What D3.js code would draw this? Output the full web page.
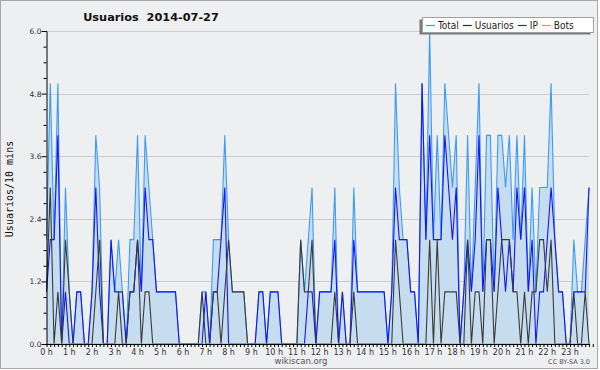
<!DOCTYPE html>
<html>
<head>
<meta charset="utf-8">
<script src="https://cdn.jsdelivr.net/npm/d3@7/dist/d3.min.js"></script>
<style>
  body { margin: 0; background: #fff; }
  svg { display: block; font-family: "DejaVu Sans", sans-serif; }
</style>
</head>
<body>
<svg id="chart"></svg>
<script>
// 10-minute slots of 2014-07-27
const hourLabels = d3.range(24).map(h => h + ' h');

const total = [
  2,5,2,5,0,3,  1,0,1,1,0,0,  1,4,3,0,0,2,  1,2,1,0,2,2,
  4,1,4,3,2,1,  1,1,1,1,1,0,  0,0,0,0,0,1,  1,0,2,2,2,4,
  2,1,1,1,1,0,  0,0,1,1,0,1,  1,1,0,0,0,0,  0,2,1,2,3,0,
  1,1,1,1,3,0,  1,0,0,3,1,1,  1,1,1,1,1,1,  0,1,5,3,2,2,
  1,1,0,5,2,6,  2,4,2,5,4,3,  4,0,1,4,1,3,  5,1,4,4,1,4,
  4,3,4,2,4,2,  4,1,3,1,3,3,  3,5,2,1,1,0,  0,2,1,1,2,3
];
const usuarios = [
  1,2,2,4,0,1,  0,0,1,1,0,0,  1,3,1,0,0,2,  1,1,1,0,1,1,
  2,1,3,2,2,1,  1,1,1,1,1,0,  0,0,0,0,0,0,  1,0,1,1,2,3,
  0,0,0,0,0,0,  0,0,1,1,0,1,  1,1,0,0,0,0,  0,0,0,1,1,0,
  1,1,1,1,2,0,  1,0,0,2,1,1,  1,1,1,1,1,1,  0,1,3,2,2,2,
  1,1,0,5,2,4,  2,2,2,4,3,2,  3,0,1,2,1,2,  4,1,2,2,1,3,
  2,1,2,1,3,2,  3,1,2,0,1,1,  2,3,2,1,1,0,  0,1,1,1,1,3
];
const ip = [
  1,3,0,1,0,2,  1,0,0,0,0,0,  0,1,2,0,0,0,  0,1,0,0,1,1,
  2,0,1,1,0,0,  0,0,0,0,0,0,  0,0,0,0,0,1,  0,0,1,1,0,1,
  2,1,1,1,1,0,  0,0,0,0,0,0,  0,0,0,0,0,0,  0,2,1,1,2,0,
  0,0,0,0,1,0,  0,0,0,1,0,0,  0,0,0,0,0,0,  0,0,2,1,0,0,
  0,0,0,0,0,2,  0,2,0,1,1,1,  1,0,0,2,0,1,  1,0,2,2,0,1,
  2,2,2,1,1,0,  1,0,1,1,2,2,  1,2,0,0,0,0,  0,1,0,0,1,0
];
const bots = [
  0,0,0,0,0,0,  0,0,0,0,0,0,  0,0,0,0,0,0,  0,0,0,0,0,0,
  0,0,0,0,0,0,  0,0,0,0,0,0,  0,0,0,0,0,0,  0,0,0,0,0,0,
  0,0,0,0,0,0,  0,0,0,0,0,0,  0,0,0,0,0,0,  0,0,0,0,0,0,
  0,0,0,0,0,0,  0,0,0,0,0,0,  0,0,0,0,0,0,  0,0,0,0,0,0,
  0,0,0,0,0,0,  0,0,0,0,0,0,  0,0,0,0,0,0,  0,0,0,0,0,0,
  0,0,0,0,0,0,  0,0,0,0,0,0,  0,0,0,0,0,0,  0,0,0,0,0,0
];
const yTicks = [0, 1.2, 2.4, 3.6, 4.8, 6.0];

const series = [
  { name: 'Total', values: total, color: '#3d9bf5' },
  { name: 'Usuarios', values: usuarios, color: '#1515f5' },
  { name: 'IP', values: ip, color: '#3a3a3a' },
  { name: 'Bots', values: bots, color: '#ff9a10' }
];

// Chart dimensions
const W = 600, H = 370;
const margin = { top: 31, right: 11, bottom: 26, left: 46.5 };

const svg = d3.select('#chart')
    .attr('width', W)
    .attr('height', H);

svg.append('rect')
    .attr('x', 0.5).attr('y', 0.5)
    .attr('width', W - 3).attr('height', H - 2)
    .attr('fill', '#eeeff1')
    .attr('stroke', '#a8a8a8');

const x = d3.scaleLinear()
    .domain([0, total.length - 1])
    .range([margin.left, W - margin.right]);
const y = d3.scaleLinear()
    .domain([0, 6])
    .range([H - margin.bottom, margin.top]);

// grid lines at the labelled ticks
svg.append('g')
    .selectAll('line')
    .data(yTicks)
    .join('line')
    .attr('x1', x.range()[0]).attr('x2', x.range()[1])
    .attr('y1', d => Math.round(y(d)) + 0.5)
    .attr('y2', d => Math.round(y(d)) + 0.5)
    .attr('stroke', '#cccccc');

// area under total
const idx = d3.range(total.length);
svg.append('path')
    .datum(idx)
    .attr('fill', '#c6ddf0')
    .attr('d', d3.area()
        .x(i => x(i))
        .y0(y(0))
        .y1(i => y(total[i])));

const line = vals => d3.line().x(i => x(i)).y(i => y(vals[i]));

// draw series lines, total first so the others sit on top
series.forEach(s => {
  svg.append('path')
      .datum(idx)
      .attr('fill', 'none')
      .attr('stroke', s.color)
      .attr('stroke-width', 1.1)
      .attr('stroke-linejoin', 'miter')
      .attr('d', line(s.values));
});

// y axis: minor ticks every 0.3, labels every 1.2
const yAxis = svg.append('g')
    .attr('transform', `translate(${x.range()[0]},0)`)
    .call(d3.axisLeft(y)
        .tickValues(d3.range(0, 21).map(k => +(k * 0.3).toFixed(1)))
        .tickSize(3)
        .tickFormat(''));
yAxis.selectAll('.tick line')
    .attr('x2', d => yTicks.some(t => Math.abs(t - d) < 1e-6) ? -5 : -3);
yAxis.select('.domain').attr('stroke', '#000');

svg.append('g')
    .selectAll('text')
    .data(yTicks)
    .join('text')
    .attr('x', x.range()[0] - 5)
    .attr('y', d => y(d) + 3)
    .attr('text-anchor', 'end')
    .attr('font-size', 7.5)
    .attr('fill', '#333')
    .text(d => d.toFixed(1));

// x axis: a tick every 10 minutes, labels on the hour
const xAxis = svg.append('g')
    .attr('transform', `translate(0,${y(0)})`)
    .call(d3.axisBottom(x)
        .tickValues(d3.range(0, total.length + 1))
        .tickSize(3)
        .tickSizeOuter(0)
        .tickFormat(''));
xAxis.select('.domain').attr('stroke', '#000');
xAxis.selectAll('.tick line').attr('stroke', '#000');

svg.append('g')
    .selectAll('text')
    .data(hourLabels)
    .join('text')
    .attr('x', (d, i) => x(i * 6))
    .attr('y', y(0) + 11)
    .attr('text-anchor', 'middle')
    .attr('font-size', 8)
    .attr('fill', '#333')
    .text(d => d);

// title and y label
svg.append('text')
    .attr('x', 151).attr('y', 21)
    .attr('text-anchor', 'middle')
    .attr('font-size', 11.3)
    .attr('font-weight', 'bold')
    .attr('fill', '#111')
    .attr('xml:space', 'preserve')
    .text('Usuarios  2014-07-27');

svg.append('text')
    .attr('transform', 'translate(13,189) rotate(-90)')
    .attr('text-anchor', 'middle')
    .attr('font-family', '"DejaVu Sans Mono", monospace')
    .attr('font-size', 10)
    .attr('fill', '#111')
    .text('Usuarios/10 mins');

// footer
svg.append('text')
    .attr('x', 301).attr('y', 364)
    .attr('text-anchor', 'middle')
    .attr('font-size', 8.5)
    .attr('fill', '#555')
    .text('wikiscan.org');
svg.append('text')
    .attr('x', 590).attr('y', 364)
    .attr('text-anchor', 'end')
    .attr('font-size', 6.5)
    .attr('fill', '#555')
    .text('CC BY-SA 3.0');

// legend box with a drop shadow
const legend = svg.append('g');
const lx = 422, ly = 17, lw = 171, lh = 15;
legend.append('rect')
    .attr('x', lx - 2.5).attr('y', ly + 2.5)
    .attr('width', lw).attr('height', lh)
    .attr('fill', '#7a7a7a');
legend.append('rect')
    .attr('x', lx + 0.5).attr('y', ly + 0.5)
    .attr('width', lw).attr('height', lh)
    .attr('fill', '#fff')
    .attr('stroke', '#a0a0a0');

let cx = lx + 4;
series.forEach(s => {
  legend.append('line')
      .attr('x1', cx).attr('x2', cx + 9)
      .attr('y1', ly + 8.5).attr('y2', ly + 8.5)
      .attr('stroke', s.color)
      .attr('stroke-width', 1.2);
  const t = legend.append('text')
      .attr('x', cx + 12).attr('y', ly + 12)
      .attr('font-family', '"DejaVu Sans Condensed", "Liberation Sans Narrow", sans-serif')
      .attr('font-size', 10)
      .attr('fill', '#222')
      .text(s.name);
  cx += 12 + t.node().getComputedTextLength() + 4;
});
</script>
</body>
</html>
